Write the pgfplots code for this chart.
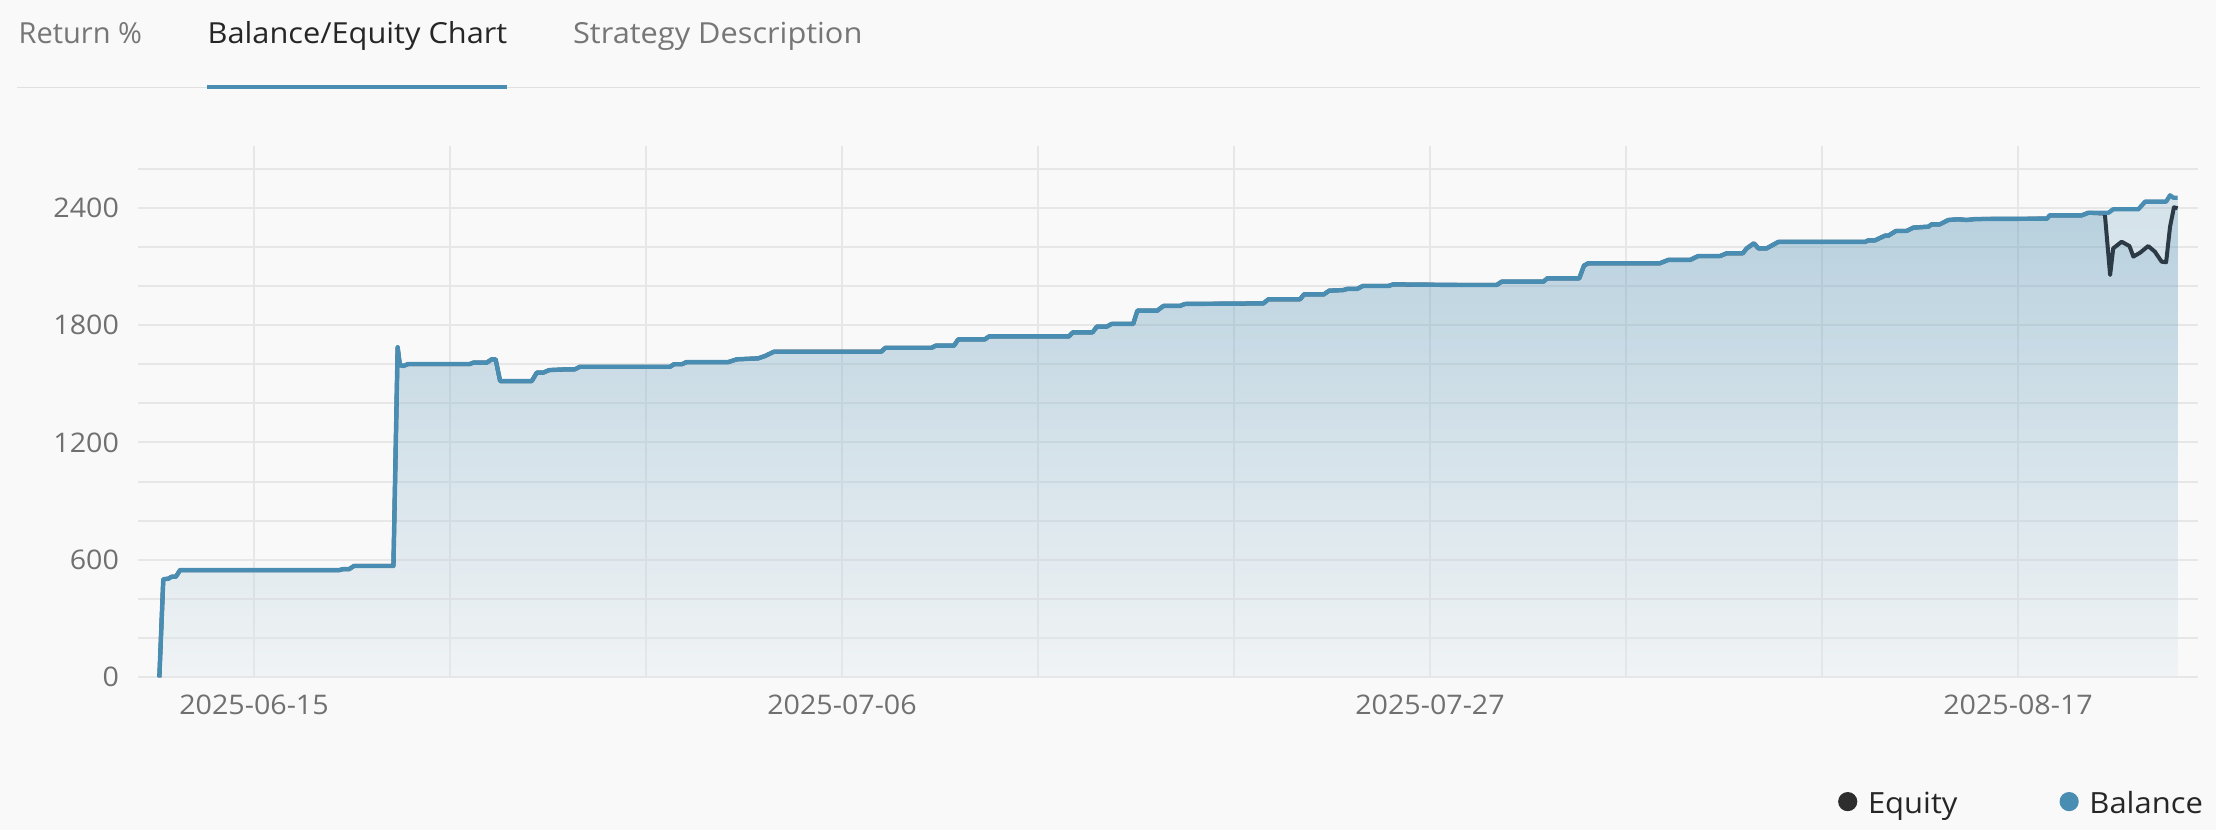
\documentclass[border=0pt]{standalone}
\usepackage{fontspec}
\setmainfont{Open Sans}[FakeStretch=1.06]
\usepackage{pgfplots}
\usepackage{pgfplotstable}
\pgfplotsset{compat=1.18}

\definecolor{bg}{RGB}{249,249,249}
\definecolor{gridc}{RGB}{231,231,231}
\definecolor{bal}{RGB}{74,141,178}
\definecolor{eqc}{RGB}{44,58,70}
\definecolor{eqdot}{RGB}{45,45,45}
\definecolor{tickc}{RGB}{112,112,112}
\definecolor{tabgray}{RGB}{118,118,118}
\definecolor{darkt}{RGB}{38,38,38}
\definecolor{sepc}{RGB}{224,224,224}

% day = days since 2025-06-15
\pgfplotstableread{
d v
-3.38 0
-3.24 501
-3.06 504
-2.94 514
-2.79 514
-2.64 548
3.05 548
3.19 553
3.40 553
3.57 569
4.98 569
5.13 1687
5.21 1596
5.33 1591
5.51 1601
7.71 1601
7.83 1608
8.31 1608
8.49 1625
8.63 1625
8.79 1514
9.92 1514
10.10 1557
10.33 1557
10.54 1570
11.17 1574
11.46 1574
11.64 1587
14.86 1587
15.00 1600
15.28 1600
15.45 1611
16.94 1611
17.24 1625
18.01 1630
18.25 1642
18.57 1664
22.40 1664
22.55 1684
24.20 1684
24.35 1695
25.00 1695
25.15 1727
26.10 1727
26.25 1742
29.10 1742
29.25 1763
29.95 1763
30.10 1792
30.45 1792
30.63 1806
31.40 1806
31.55 1874
32.26 1874
32.48 1898
33.07 1898
33.25 1908
36.05 1911
36.23 1932
37.36 1932
37.50 1957
38.21 1957
38.40 1976
38.90 1979
39.05 1985
39.40 1985
39.60 2000
40.51 2000
40.69 2008
43.07 2005
44.38 2005
44.56 2022
46.05 2022
46.19 2039
47.33 2039
47.50 2104
47.65 2116
50.21 2116
50.51 2133
51.29 2133
51.58 2153
52.36 2153
52.60 2167
53.17 2167
53.31 2192
53.57 2218
53.73 2192
54.02 2192
54.44 2225
57.54 2225
57.65 2233
57.89 2233
58.25 2257
58.37 2257
58.64 2281
59.02 2281
59.26 2298
59.80 2303
59.92 2315
60.21 2315
60.51 2337
60.87 2341
61.17 2337
61.46 2342
64.03 2344
64.14 2361
65.28 2361
65.51 2374
66.23 2374
66.40 2392
67.30 2392
67.54 2431
68.29 2431
68.43 2463
68.55 2451
68.70 2451
}\balance

\pgfplotstableread{
d v
-3.38 0
-3.24 501
-3.06 504
-2.94 514
-2.79 514
-2.64 548
3.05 548
3.19 553
3.40 553
3.57 569
4.98 569
5.13 1687
5.21 1596
5.33 1591
5.51 1601
7.71 1601
7.83 1608
8.31 1608
8.49 1625
8.63 1625
8.79 1514
9.92 1514
10.10 1557
10.33 1557
10.54 1570
11.17 1574
11.46 1574
11.64 1587
14.86 1587
15.00 1600
15.28 1600
15.45 1611
16.94 1611
17.24 1625
18.01 1630
18.25 1642
18.57 1664
22.40 1664
22.55 1684
24.20 1684
24.35 1695
25.00 1695
25.15 1727
26.10 1727
26.25 1742
29.10 1742
29.25 1763
29.95 1763
30.10 1792
30.45 1792
30.63 1806
31.40 1806
31.55 1874
32.26 1874
32.48 1898
33.07 1898
33.25 1908
36.05 1911
36.23 1932
37.36 1932
37.50 1957
38.21 1957
38.40 1976
38.90 1979
39.05 1985
39.40 1985
39.60 2000
40.51 2000
40.69 2008
43.07 2005
44.38 2005
44.56 2022
46.05 2022
46.19 2039
47.33 2039
47.50 2104
47.65 2116
50.21 2116
50.51 2133
51.29 2133
51.58 2153
52.36 2153
52.60 2167
53.17 2167
53.31 2192
53.57 2218
53.73 2192
54.02 2192
54.44 2225
57.54 2225
57.65 2233
57.89 2233
58.25 2257
58.37 2257
58.64 2281
59.02 2281
59.26 2298
59.80 2303
59.92 2315
60.21 2315
60.51 2337
60.87 2341
61.17 2337
61.46 2342
64.03 2344
64.14 2361
65.28 2361
65.51 2374
66.10 2370
66.29 2056
66.40 2192
66.70 2226
66.98 2204
67.12 2150
67.36 2170
67.65 2204
67.89 2175
68.13 2124
68.29 2121
68.43 2303
68.57 2402
68.70 2397
}\equity

\begin{document}
\begin{tikzpicture}
\path[use as bounding box] (0,0) rectangle (1108pt,415pt);
\fill[bg] (0,0) rectangle (1108pt,415pt);

% tabs
\node[anchor=base west, inner sep=0pt, text=tabgray, font=\fontsize{14.5pt}{17pt}\selectfont] at (9.15pt,393.35pt) {\addfontfeatures{FakeStretch=1.0}Return \%};
\node[anchor=base west, inner sep=0pt, text=darkt, font=\fontsize{14.5pt}{17pt}\selectfont] at (103.65pt,393.35pt) {Balance/Equity Chart};
\node[anchor=base west, inner sep=0pt, text=tabgray, font=\fontsize{14.5pt}{17pt}\selectfont] at (286.35pt,393.35pt) {Strategy Description};
\draw[sepc, line width=0.75pt] (8.65pt,371.35pt) -- (1100pt,371.35pt);
\draw[bal, line width=1.85pt] (103.65pt,371.55pt) -- (253.65pt,371.55pt);

\begin{axis}[
  at={(69.15pt,76.35pt)}, anchor=south west,
  scale only axis, width=1029.7pt, height=265.65pt,
  xmin=-4.132, xmax=69.418, ymin=0, ymax=2715.3,
  axis line style={draw=none},
  tick style={draw=none},
  major tick length=0pt, minor tick length=0pt,
  xtick={0,21,42,63},
  xticklabels={2025-06-15,2025-07-06,2025-07-27,2025-08-17},
  minor xtick={7,14,28,35,49,56},
  ytick={0,600,1200,1800,2400},
  yticklabels={0,600,1200,1800,2400},
  minor ytick={200,400,800,1000,1400,1600,2000,2200,2600},
  grid=both,
  major grid style={gridc, line width=1pt},
  minor grid style={gridc, line width=1pt},
  /pgf/number format/assume math mode=true,
  xticklabel style={font=\fontsize{13.5pt}{15pt}\selectfont, text=tickc, inner sep=0pt, anchor=north, yshift=-8.6pt},
  yticklabel style={font=\fontsize{13.5pt}{15pt}\selectfont, text=tickc, inner sep=0pt, anchor=east, xshift=-9.5pt},
  legend columns=2,
  legend style={draw=none, fill=none, inner sep=0pt, outer sep=0pt,
    at={(1.0025,-0.2364)}, anchor=east,
    nodes={inner sep=0pt, text depth=0pt, text=darkt, font=\fontsize{14.6pt}{16pt}\selectfont},
    /tikz/every even column/.append style={column sep=51pt}},
]
\addplot[draw=none, top color=bal, bottom color=bal!12!bg, fill opacity=0.206, forget plot] table[x=d,y=v] {\balance} \closedcycle;
\addplot[draw=none, top color=bal, bottom color=bal!12!bg, fill opacity=0.206, forget plot] table[x=d,y=v] {\equity} \closedcycle;
\addplot[eqc, line width=2pt, line join=round, forget plot] table[x=d,y=v] {\equity};
\addplot[bal, line width=2.2pt, line join=round, forget plot] table[x=d,y=v] {\balance};

\addlegendimage{legend image code/.code={\fill[eqdot, draw=none] (4.8pt,0.65pt) circle (4.8pt); \path[draw=none, fill=none] (0,0) -- (14.95pt,0);}}
\addlegendentry{Equity}
\addlegendimage{legend image code/.code={\fill[bal, draw=none] (4.8pt,0.65pt) circle (4.8pt); \path[draw=none, fill=none] (0,0) -- (14.95pt,0);}}
\addlegendentry{Balance}
\end{axis}
\end{tikzpicture}
\end{document}
